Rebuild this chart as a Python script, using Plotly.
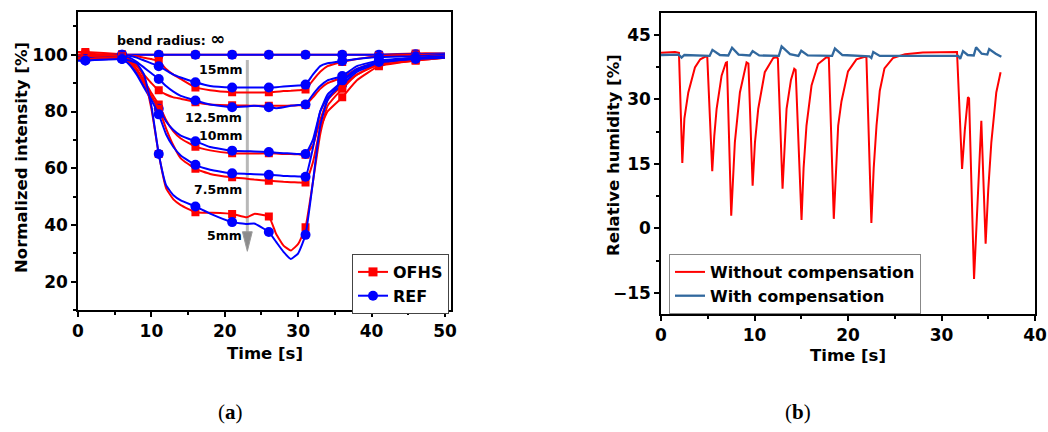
import plotly.graph_objects as go

# ---------------- Panel (a) data ----------------
time_a = [0, 1, 6, 7, 8, 9, 10, 11, 12, 13, 14, 16, 18, 21, 23, 24, 26, 27, 28, 29, 30, 31, 32, 33, 34, 36, 38, 41, 46, 50]
marker_times = [1, 6, 11, 16, 21, 26, 31, 36, 41, 46]

ofhs_inf = [101, 101, 100.2, 100, 100, 100, 100, 100, 100, 100, 100, 100, 100, 100, 100, 100, 100, 100, 100, 100, 100, 100, 100, 100, 100, 100, 100, 100, 100.5, 100.5]
ref_inf = [99.5, 99.8, 100, 100, 100, 100, 100, 100, 100, 100, 100, 100, 100, 100, 100, 100, 100, 100, 100, 100, 100, 100, 100, 100, 100, 100, 100, 100, 100.2, 100.5]
ofhs_15 = [100, 100, 100, 99.8, 99.5, 99, 98.5, 97.8, 95, 93, 91.5, 88.5, 87.5, 86.8, 86.7, 86.7, 86.8, 87, 87.2, 87.3, 87.5, 87.8, 91, 94, 96, 97.5, 98.5, 99.5, 100, 100]
ref_15 = [99, 99, 100, 99.7, 99, 98, 97, 96, 94.5, 93, 92, 90.3, 89, 88.5, 88.5, 88.5, 88.5, 88.6, 88.8, 89, 89.2, 89.5, 93, 96, 97, 97.8, 98.5, 99.2, 99.5, 100]
ofhs_125 = [100, 100.5, 99.5, 98.5, 96, 93, 90, 87.5, 86, 85, 84.5, 83.3, 82.5, 82.2, 82.1, 82, 82, 82, 82, 82.1, 82.2, 82.3, 85, 88, 90, 92, 95, 97.5, 99, 99.5]
ref_125 = [98.5, 98.5, 99.5, 99, 97.5, 95.5, 93.5, 91.5, 89, 87, 85.5, 83.9, 82.5, 81.5, 81.8, 82, 81.5, 81.2, 81.5, 82, 82.3, 82.5, 86, 89, 91, 92.5, 96, 98, 99, 99.5]
ofhs_10 = [99, 99.5, 99.5, 98, 95, 91, 86.5, 82.5, 77, 73, 70.5, 67.6, 66.3, 65.3, 65.2, 65.2, 65.3, 65.2, 65, 65, 64.9, 64.8, 68, 77, 84, 89, 93, 97, 99, 99.5]
ref_10 = [98.5, 98.5, 99, 97, 93.5, 89, 85, 81, 76.5, 73.5, 71.5, 69.5, 67.5, 66.2, 66, 65.9, 65.7, 65.5, 65.3, 65.2, 65, 65, 70, 80, 86, 90.5, 94.5, 97.5, 99, 99.5]
ofhs_75 = [98.5, 98.5, 99, 97.5, 94.5, 90, 85.5, 81, 74, 68, 63.5, 59.8, 58, 56.8, 56.3, 56, 55.6, 55.4, 55.2, 55.1, 55, 55, 62, 74, 80, 85, 91, 96, 98, 99]
ref_75 = [98, 98, 98.5, 96.5, 93, 88.5, 84, 79, 72, 67.5, 64.5, 61.2, 59.5, 58.2, 58, 57.9, 57.7, 57.5, 57.3, 57.2, 57.1, 57, 67, 80, 85, 89.5, 94, 97, 98.5, 99]
ofhs_5 = [98.5, 98.5, 99, 98, 96.5, 92, 81, 65, 53, 49, 47, 44.5, 44.3, 43.9, 42.7, 43.9, 43, 36.8, 32.7, 31, 33.3, 39.2, 55, 72, 82, 88, 93, 96.5, 98, 99]
ref_5 = [98, 98, 98.5, 98, 97, 93, 82, 65, 54, 50.5, 48.7, 46.5, 44, 41, 40.3, 40.5, 37.5, 34, 30.5, 28, 30, 36.5, 55, 75, 84, 91, 95, 97.5, 98.5, 99]

radius_labels = ["15mm", "12.5mm", "10mm", "7.5mm", "5mm"]
radius_label_y = [94.8, 77.8, 71.5, 52.5, 36.2]

# ---------------- Panel (b) data ----------------
without_t = [0, 1.5, 1.92, 2.28, 2.5, 2.92, 3.63, 4.2, 4.8, 4.95, 5.48, 5.7, 5.95, 6.48, 6.94, 7.05, 7.51, 7.7, 7.9, 8.44,
             9.15, 9.35, 9.8, 10.05, 10.4, 11.1, 12.0, 12.36, 12.5, 13.0, 13.2, 13.43, 13.9, 14.25, 14.4, 15.03, 15.25, 15.56,
             16.1, 16.8, 17.7, 17.95, 18.48, 18.7, 18.95, 19.3, 20.0, 20.9, 21.8, 21.97, 22.5, 22.75, 23.05, 23.4, 23.9, 24.8,
             26.1, 28.0, 31.66, 32.2, 32.5, 32.83, 32.95, 33.48, 33.8, 34.26, 34.72, 35.0, 35.33, 35.86, 36.32]
without_rh = [40.8, 41.0, 40.8, 15.2, 25.5, 31.6, 37.4, 39.3, 40.0, 39.8, 13.3, 21.5, 27.8, 35.5, 38.5, 38.6, 2.95, 12, 20, 31.6,
              38.6, 38.3, 9.9, 20, 27.8, 36.3, 39.6, 39.8, 39.5, 9.2, 19, 27.8, 34.5, 37.1, 36.8, 1.95, 14, 23.9,
              33.2, 38.2, 39.8, 39.6, 2.2, 14, 23.9, 29.5, 36.5, 39.3, 39.9, 39.7, 1.25, 14, 23.9, 32, 37.2, 39.6,
              40.5, 40.9, 41.0, 13.8, 23, 30.5, 30.2, -11.8, 5, 25.0, -3.6, 9, 20, 31.6, 36.3]
with_t = [0, 1.9, 2.2, 2.5, 5.2, 5.5, 6.3, 7.2, 7.6, 8.3, 9.5, 9.8, 10.5, 12.6, 12.9, 13.8, 14.7, 15.0, 15.7, 18.3, 18.6, 19.4,
          22.3, 22.5, 22.7, 23.4, 31.8, 32.0, 32.3, 32.8, 33.45, 33.7, 34.3, 34.9, 35.1, 35.8, 36.4]
with_rh = [40.3, 40.4, 39.7, 40.3, 40.1, 41.5, 40.3, 40.2, 42.0, 40.4, 40.2, 41.2, 40.2, 40.1, 42.3, 40.5, 40.1, 41.3, 40.2, 40.1, 41.8, 40.3,
           40.0, 39.6, 41.0, 40.1, 40.1, 39.4, 41.2, 40.3, 40.2, 42.1, 40.6, 40.4, 41.7, 40.6, 39.9]

RED = "#ff0000"
BLUE = "#0000ff"
STEEL = "#31689e"
FONT = "DejaVu Sans, Arial, sans-serif"

fig = go.Figure()

pairs = [(ofhs_inf, ref_inf), (ofhs_15, ref_15), (ofhs_125, ref_125), (ofhs_10, ref_10), (ofhs_75, ref_75), (ofhs_5, ref_5)]
for ofhs, ref in pairs:
    for vals, col, sym, sz in [(ofhs, RED, "square", 8), (ref, BLUE, "circle", 10)]:
        fig.add_trace(go.Scatter(x=time_a, y=vals, mode="lines",
                                 line=dict(color=col, width=2, shape="spline", smoothing=0.4),
                                 showlegend=False, hoverinfo="skip", xaxis="x", yaxis="y"))
        mx = [t for t in marker_times]
        my = [vals[time_a.index(t)] for t in marker_times]
        fig.add_trace(go.Scatter(x=mx, y=my, mode="markers",
                                 marker=dict(color=col, symbol=sym, size=sz),
                                 showlegend=False, xaxis="x", yaxis="y"))

# legend entries for panel (a)
fig.add_trace(go.Scatter(x=[None], y=[None], mode="lines+markers", name="OFHS",
                         line=dict(color=RED, width=2), marker=dict(color=RED, symbol="square", size=9),
                         legend="legend", xaxis="x", yaxis="y"))
fig.add_trace(go.Scatter(x=[None], y=[None], mode="lines+markers", name="REF",
                         line=dict(color=BLUE, width=2), marker=dict(color=BLUE, symbol="circle", size=10),
                         legend="legend", xaxis="x", yaxis="y"))

# panel (b)
fig.add_trace(go.Scatter(x=without_t, y=without_rh, mode="lines", name="Without compensation",
                         line=dict(color=RED, width=2), legend="legend2", xaxis="x2", yaxis="y2"))
fig.add_trace(go.Scatter(x=with_t, y=with_rh, mode="lines", name="With compensation",
                         line=dict(color=STEEL, width=2.3), legend="legend2", xaxis="x2", yaxis="y2"))

W, H = 1048, 432
def px_x(p):
    return p / W
def px_y(p):
    return 1 - p / H

axis_common = dict(showline=True, linecolor="black", linewidth=1.5, mirror=True, showgrid=False, zeroline=False,
                   ticks="outside", ticklen=5, tickwidth=1.5, tickcolor="black",
                   tickfont=dict(family=FONT, size=17, color="black", weight="bold"))

fig.update_layout(
    width=W, height=H, margin=dict(l=0, r=0, t=0, b=0),
    paper_bgcolor="white", plot_bgcolor="white", template="none",
    font=dict(family=FONT, color="black"),
    xaxis=dict(domain=[px_x(78), px_x(451)], range=[0, 50.82], dtick=10, tick0=0, anchor="y",
               minor=dict(dtick=5, tick0=0, ticks="outside", ticklen=3, tickwidth=1.5, tickcolor="black"), **axis_common),
    yaxis=dict(domain=[px_y(310), px_y(12.3)], range=[10, 115], dtick=20, tick0=0, anchor="x",
               minor=dict(dtick=10, tick0=0, ticks="outside", ticklen=3, tickwidth=1.5, tickcolor="black"), **axis_common),
    xaxis2=dict(domain=[px_x(661), px_x(1035)], range=[0, 40], dtick=10, tick0=0, anchor="y2",
                minor=dict(dtick=5, tick0=0, ticks="outside", ticklen=3, tickwidth=1.5, tickcolor="black"), **axis_common),
    yaxis2=dict(domain=[px_y(314.3), px_y(13.3)], range=[-20, 50], dtick=15, tick0=0, anchor="x2",
                minor=dict(dtick=7.5, tick0=0, ticks="outside", ticklen=3, tickwidth=1.5, tickcolor="black"), **axis_common),
    legend=dict(x=px_x(352), y=px_y(254), xanchor="left", yanchor="top", bgcolor="white",
                bordercolor="#444", borderwidth=1, font=dict(family=FONT, size=16, weight="bold"),
                tracegroupgap=0, itemwidth=30),
    legend2=dict(x=px_x(669), y=px_y(254), xanchor="left", yanchor="top", bgcolor="white",
                 bordercolor="#888", borderwidth=1, font=dict(family=FONT, size=16, weight="bold"),
                 tracegroupgap=0, itemwidth=30),
)

# gray arrow (bend radius decreasing)
fig.add_shape(type="line", xref="x", yref="y", x0=23.07, x1=23.07, y0=98.2, y1=37.4,
              line=dict(color="#b8b8b8", width=3), layer="below")
fig.add_shape(type="path", xref="x", yref="y", path="M 22.4,37.6 L 23.74,37.6 L 23.07,30.7 Z",
              fillcolor="#8c8c8c", line=dict(color="#9a9a9a", width=1), layer="below")

# curve labels
label_font = dict(family=FONT, size=12.5, weight="bold", color="black")
fig.add_annotation(x=12.7, y=105.9, xref="x", yref="y", showarrow=False, xanchor="center", yanchor="middle",
                   text="bend radius: <span style='font-size:18px'>∞</span>", font=label_font)
for lab, ly in zip(radius_labels, radius_label_y):
    fig.add_annotation(x=22.6, y=ly, xref="x", yref="y", showarrow=False, xanchor="right", yanchor="middle",
                       text=lab, font=label_font)

# axis titles
title_font = dict(family=FONT, size=16.5, weight="bold", color="black")
common_ann = dict(xref="paper", yref="paper", showarrow=False, xanchor="center", yanchor="middle")
fig.add_annotation(x=px_x(265), y=px_y(353), text="Time [s]", font=title_font, **common_ann)
fig.add_annotation(x=px_x(848), y=px_y(355), text="Time [s]", font=title_font, **common_ann)
fig.add_annotation(x=px_x(22), y=px_y(158), textangle=-90, text="Normalized intensity [%]", font=title_font, **common_ann)
fig.add_annotation(x=px_x(613), y=px_y(155), textangle=-90, text="Relative humidity [%]", font=title_font, **common_ann)

# panel labels
sub_font = dict(family="Liberation Serif, DejaVu Serif, serif", size=21, color="black")
fig.add_annotation(x=px_x(230), y=px_y(412), text="(<b>a</b>)", font=sub_font, **common_ann)
fig.add_annotation(x=px_x(798), y=px_y(412), text="(<b>b</b>)", font=sub_font, **common_ann)

fig.write_html("out.html", config={"displayModeBar": False},
               post_script="document.body.style.margin='0';")
